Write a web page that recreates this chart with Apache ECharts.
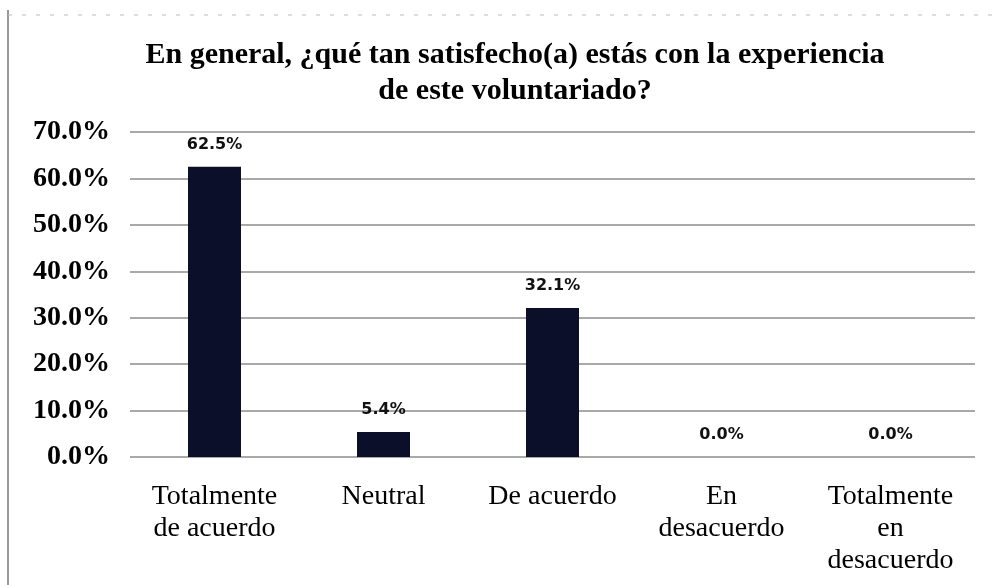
<!DOCTYPE html>
<html><head><meta charset="utf-8">
<script src="https://cdn.jsdelivr.net/npm/echarts@6/dist/echarts.min.js"></script>
<style>html,body{margin:0;padding:0;background:#fff}#c{width:994px;height:585px}</style>
</head><body><div id="c"></div>
<script>
const categories = ["Totalmente\nde acuerdo", "Neutral", "De acuerdo", "En\ndesacuerdo", "Totalmente\nen\ndesacuerdo"];
const values = [62.5, 5.4, 32.1, 0.0, 0.0];
const titleText = "En general, ¿qué tan satisfecho(a) estás con la experiencia\nde este voluntariado?";

const chart = echarts.init(document.getElementById('c'));
chart.setOption({
  backgroundColor: '#fff',
  animation: false,
  title: {
    text: titleText, left: 510, top: 32, textAlign: 'center',
    textStyle: { fontFamily: 'Liberation Serif', fontWeight: 'bold', fontSize: 30, lineHeight: 36, color: '#000' }
  },
  graphic: [
    { type: 'line', shape: { x1: 8, y1: 10, x2: 8, y2: 585 }, style: { stroke: '#999', lineWidth: 2 } },
    { type: 'line', shape: { x1: 8, y1: 15, x2: 994, y2: 15 }, style: { stroke: '#bbb', lineWidth: 1, lineDash: [4, 10] } }
  ],
  grid: { left: 130, right: 19, top: 132, bottom: 128 },
  xAxis: {
    type: 'category', data: categories,
    axisLine: { show: false }, axisTick: { show: false },
    axisLabel: { fontFamily: 'Liberation Serif', fontSize: 28, lineHeight: 32, color: '#000', margin: 24, interval: 0 }
  },
  yAxis: {
    type: 'value', min: 0, max: 70, interval: 10,
    axisLine: { show: false }, axisTick: { show: false },
    axisLabel: { formatter: v => v.toFixed(1) + '%', fontFamily: 'Liberation Serif', fontWeight: 'bold', fontSize: 28, color: '#000', margin: 20 },
    splitLine: { lineStyle: { color: '#8c8c8c', width: 1.5 } }
  },
  series: [{
    type: 'bar', data: values, barWidth: 53,
    itemStyle: { color: '#0b0f2a' },
    label: { show: true, position: 'top', distance: 14, formatter: p => p.value.toFixed(1) + '%',
      fontFamily: 'DejaVu Sans', fontWeight: 'bold', fontSize: 16, color: '#111' }
  }]
});
</script></body></html>
